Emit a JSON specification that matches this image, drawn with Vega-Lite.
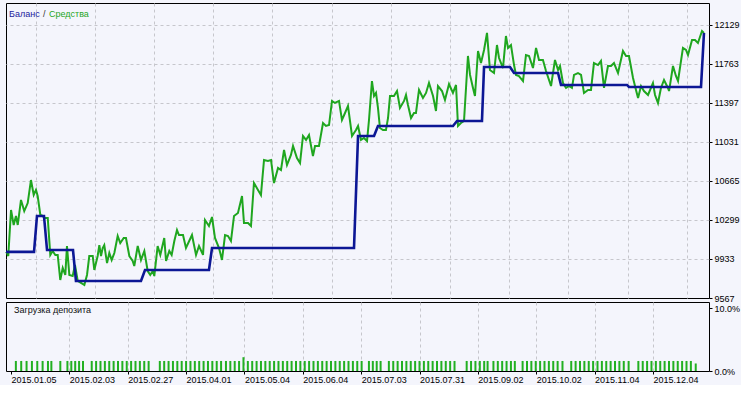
{
"$schema":"https://vega.github.io/schema/vega-lite/v6.json",
"background":"#f4f5fc",
"padding":{"left":0,"top":2,"right":0,"bottom":0},
"spacing":4,
"bounds":"flush",
"config":{
 "view":{"stroke":"#000000","strokeWidth":1,"fill":"#f4f5fc"},
 "font":"Liberation Sans",
 "text":{"font":"Liberation Sans"},
 "axis":{"gridColor":"#c6c6cc","gridDash":[3,3],"gridWidth":1,"domain":false,"labelFont":"Liberation Sans","labelFontSize":9,"labelColor":"#000000","tickColor":"#000000","minExtent":0}
},
"datasets":{
 "equity":[
{"n":0,"v":10000},{"n":1.0,"v":9989},{"n":2.3,"v":9961},{"n":5.1,"v":10393},{"n":7.8,"v":10252},{"n":10.1,"v":10337},{"n":11.9,"v":10252},{"n":15.2,"v":10487},{"n":18.5,"v":10383},{"n":22.0,"v":10458},{"n":25.3,"v":10674},{"n":28.1,"v":10534},{"n":30.4,"v":10581},{"n":32.1,"v":10524},{"n":34.8,"v":10346},{"n":37.2,"v":10337},{"n":38.8,"v":10318},{"n":42.3,"v":10318},{"n":44.9,"v":9971},{"n":47.3,"v":10008},{"n":50.0,"v":9971},{"n":52.4,"v":9971},{"n":55.0,"v":9736},{"n":57.5,"v":9849},{"n":60.1,"v":9783},{"n":61.8,"v":10055},{"n":64.2,"v":9783},{"n":67.6,"v":9773},{"n":69.9,"v":9877},{"n":72.7,"v":9727},{"n":76.0,"v":9708},{"n":79.4,"v":9689},{"n":82.1,"v":9783},{"n":84.4,"v":9961},{"n":87.9,"v":9961},{"n":89.5,"v":9830},{"n":92.9,"v":9961},{"n":94.6,"v":10064},{"n":96.3,"v":9961},{"n":98.0,"v":10036},{"n":99.6,"v":10064},{"n":102.4,"v":9895},{"n":104.7,"v":9989},{"n":107.1,"v":9924},{"n":109.8,"v":9989},{"n":113.2,"v":10149},{"n":115.8,"v":10083},{"n":119.3,"v":10130},{"n":121.6,"v":10130},{"n":125.0,"v":9961},{"n":128.4,"v":9914},{"n":130.0,"v":9867},{"n":133.5,"v":10055},{"n":136.8,"v":9924},{"n":140.2,"v":10008},{"n":143.6,"v":9820},{"n":146.2,"v":9783},{"n":148.7,"v":9820},{"n":150.3,"v":9773},{"n":153.7,"v":10055},{"n":156.4,"v":9971},{"n":160.4,"v":10130},{"n":162.2,"v":9914},{"n":165.5,"v":10008},{"n":167.9,"v":9971},{"n":170.6,"v":10102},{"n":173.3,"v":10205},{"n":175.3,"v":10158},{"n":179.4,"v":10158},{"n":182.4,"v":10036},{"n":188.5,"v":10158},{"n":192.6,"v":9971},{"n":195.6,"v":10055},{"n":199.7,"v":9971},{"n":201.7,"v":10299},{"n":205.7,"v":10243},{"n":208.8,"v":10327},{"n":211.8,"v":10130},{"n":215.9,"v":10036},{"n":218.9,"v":9924},{"n":222.0,"v":10158},{"n":225.0,"v":10149},{"n":228.0,"v":10102},{"n":231.1,"v":10337},{"n":235.1,"v":10365},{"n":239.2,"v":10524},{"n":241.2,"v":10271},{"n":245.3,"v":10271},{"n":248.3,"v":10243},{"n":251.3,"v":10646},{"n":255.4,"v":10581},{"n":258.4,"v":10534},{"n":261.5,"v":10862},{"n":265.5,"v":10853},{"n":268.6,"v":10862},{"n":271.6,"v":10646},{"n":275.7,"v":10787},{"n":278.7,"v":10768},{"n":281.8,"v":10956},{"n":284.8,"v":10815},{"n":288.8,"v":10909},{"n":290.9,"v":10993},{"n":294.9,"v":10881},{"n":298.0,"v":10834},{"n":301.0,"v":11087},{"n":304.1,"v":11050},{"n":307.1,"v":11096},{"n":311.1,"v":10899},{"n":313.2,"v":10993},{"n":317.2,"v":10993},{"n":321.3,"v":11209},{"n":324.3,"v":11181},{"n":327.4,"v":11190},{"n":330.4,"v":11416},{"n":333.4,"v":11397},{"n":337.5,"v":11416},{"n":340.5,"v":11237},{"n":343.6,"v":11303},{"n":346.6,"v":11369},{"n":350.7,"v":11087},{"n":354.7,"v":11143},{"n":356.8,"v":11181},{"n":359.8,"v":11050},{"n":362.8,"v":11068},{"n":365.9,"v":11040},{"n":367.9,"v":11237},{"n":370.9,"v":11603},{"n":373.0,"v":11462},{"n":375.0,"v":11491},{"n":377.0,"v":11350},{"n":379.0,"v":11162},{"n":382.1,"v":11143},{"n":385.1,"v":11143},{"n":387.2,"v":11256},{"n":389.2,"v":11462},{"n":393.2,"v":11462},{"n":396.3,"v":11509},{"n":399.3,"v":11350},{"n":403.4,"v":11416},{"n":405.4,"v":11472},{"n":407.4,"v":11378},{"n":410.5,"v":11256},{"n":413.5,"v":11303},{"n":415.5,"v":11303},{"n":418.6,"v":11519},{"n":422.6,"v":11444},{"n":425.7,"v":11491},{"n":428.7,"v":11584},{"n":432.8,"v":11462},{"n":435.8,"v":11322},{"n":437.8,"v":11556},{"n":441.9,"v":11509},{"n":444.9,"v":11425},{"n":449.0,"v":11575},{"n":453.0,"v":11491},{"n":456.1,"v":11566},{"n":458.1,"v":11181},{"n":461.1,"v":11209},{"n":464.2,"v":11228},{"n":468.2,"v":11838},{"n":470.3,"v":11660},{"n":473.3,"v":11538},{"n":475.3,"v":11462},{"n":478.4,"v":11885},{"n":481.4,"v":11772},{"n":484.5,"v":11894},{"n":487.5,"v":12054},{"n":490.5,"v":11706},{"n":494.6,"v":11678},{"n":497.6,"v":11941},{"n":499.7,"v":11819},{"n":503.7,"v":11725},{"n":506.7,"v":12025},{"n":508.8,"v":11913},{"n":511.8,"v":11941},{"n":514.9,"v":11753},{"n":516.9,"v":11660},{"n":519.9,"v":11650},{"n":524.0,"v":11603},{"n":527.0,"v":11847},{"n":530.1,"v":11838},{"n":534.1,"v":11725},{"n":537.2,"v":11913},{"n":540.2,"v":11800},{"n":544.2,"v":11800},{"n":547.3,"v":11697},{"n":552.4,"v":11556},{"n":556.4,"v":11800},{"n":559.5,"v":11706},{"n":561.5,"v":11744},{"n":564.5,"v":11584},{"n":567.6,"v":11538},{"n":570.6,"v":11556},{"n":573.6,"v":11538},{"n":575.7,"v":11660},{"n":579.7,"v":11678},{"n":582.8,"v":11660},{"n":585.8,"v":11491},{"n":589.9,"v":11519},{"n":592.9,"v":11519},{"n":595.9,"v":11772},{"n":600.0,"v":11753},{"n":603.0,"v":11791},{"n":606.1,"v":11538},{"n":610.1,"v":11744},{"n":613.2,"v":11744},{"n":616.2,"v":11772},{"n":620.3,"v":11678},{"n":625.3,"v":11885},{"n":628.4,"v":11838},{"n":631.4,"v":11838},{"n":635.5,"v":11631},{"n":638.5,"v":11519},{"n":640.6,"v":11444},{"n":643.6,"v":11556},{"n":646.6,"v":11509},{"n":650.7,"v":11472},{"n":655.7,"v":11584},{"n":657.8,"v":11472},{"n":660.8,"v":11397},{"n":663.8,"v":11538},{"n":666.9,"v":11613},{"n":670.9,"v":11538},{"n":672.0,"v":11509},{"n":676.0,"v":11744},{"n":679.0,"v":11650},{"n":681.1,"v":11603},{"n":686.1,"v":11913},{"n":689.2,"v":11894},{"n":691.2,"v":11847},{"n":695.3,"v":11988},{"n":698.3,"v":11988},{"n":701.3,"v":11960},{"n":705.4,"v":12072},{"n":707.4,"v":12054}
 ],
 "balance":[
{"n":0,"v":10000},{"n":28.4,"v":10000},{"n":31.4,"v":10337},{"n":38.5,"v":10337},{"n":41.6,"v":10017},{"n":67.9,"v":10017},{"n":70.9,"v":9727},{"n":136.8,"v":9727},{"n":140.9,"v":9830},{"n":205.7,"v":9830},{"n":208.8,"v":10036},{"n":352.7,"v":10036},{"n":356.8,"v":11087},{"n":373.0,"v":11087},{"n":377.0,"v":11181},{"n":453.0,"v":11181},{"n":457.1,"v":11228},{"n":482.4,"v":11228},{"n":484.5,"v":11735},{"n":510.8,"v":11735},{"n":514.9,"v":11678},{"n":559.5,"v":11678},{"n":562.5,"v":11566},{"n":629.4,"v":11566},{"n":631.4,"v":11547},{"n":704.4,"v":11547},{"n":707.4,"v":12054}
 ],
 "load":[
{"n":5,"p":0.016},{"n":10.5,"p":0.016},{"n":16,"p":0.016},{"n":21.5,"p":0.016},{"n":27,"p":0.016},{"n":32.5,"p":0.016},{"n":38,"p":0.016},{"n":41.5,"p":0.016},{"n":50.7,"p":0.016},
{"n":58,"p":0.016},{"n":62,"p":0.016},{"n":66,"p":0.016},{"n":70,"p":0.016},{"n":74,"p":0.016},
{"n":83,"p":0.016},{"n":87.5,"p":0.016},{"n":92,"p":0.016},{"n":96.5,"p":0.016},{"n":101,"p":0.016},{"n":105.5,"p":0.016},{"n":110,"p":0.016},{"n":114.5,"p":0.016},{"n":119,"p":0.016},{"n":123.5,"p":0.016},{"n":128,"p":0.016},{"n":132.5,"p":0.016},{"n":137,"p":0.016},{"n":141.5,"p":0.016},
{"n":153,"p":0.016},{"n":157.5,"p":0.016},{"n":162,"p":0.016},{"n":166.5,"p":0.016},{"n":171,"p":0.016},{"n":175.5,"p":0.016},{"n":180,"p":0.016},{"n":184.5,"p":0.016},{"n":189,"p":0.016},{"n":193.5,"p":0.016},{"n":198,"p":0.016},{"n":202.5,"p":0.016},{"n":207,"p":0.016},{"n":211.5,"p":0.016},{"n":216,"p":0.016},
{"n":221,"p":0.016},{"n":225.5,"p":0.016},{"n":230,"p":0.016},{"n":234.5,"p":0.016},{"n":239,"p":0.022},{"n":243.5,"p":0.016},{"n":248,"p":0.016},{"n":252.5,"p":0.016},{"n":257,"p":0.016},{"n":261.5,"p":0.016},{"n":266,"p":0.016},{"n":270.5,"p":0.016},{"n":275,"p":0.016},{"n":279.5,"p":0.016},{"n":284,"p":0.016},{"n":288.5,"p":0.016},{"n":293,"p":0.016},{"n":297.5,"p":0.016},{"n":302,"p":0.016},{"n":306.5,"p":0.016},{"n":311,"p":0.016},{"n":315.5,"p":0.016},{"n":320,"p":0.016},{"n":324.5,"p":0.016},{"n":329,"p":0.016},{"n":333.5,"p":0.016},{"n":338,"p":0.016},{"n":342.5,"p":0.016},{"n":347,"p":0.016},{"n":351.5,"p":0.016},{"n":356,"p":0.016},{"n":360.5,"p":0.016},
{"n":368,"p":0.016},{"n":372,"p":0.016},{"n":376,"p":0.016},{"n":380,"p":0.016},
{"n":388.5,"p":0.016},{"n":393,"p":0.016},{"n":397.5,"p":0.016},{"n":402,"p":0.016},{"n":406.5,"p":0.016},{"n":411,"p":0.016},{"n":415.5,"p":0.016},{"n":420,"p":0.016},{"n":424.5,"p":0.016},{"n":429,"p":0.016},{"n":433.5,"p":0.016},{"n":438,"p":0.016},{"n":442.5,"p":0.016},{"n":447,"p":0.016},{"n":451.5,"p":0.016},{"n":456,"p":0.016},
{"n":468.5,"p":0.016},{"n":473,"p":0.016},{"n":477.5,"p":0.016},{"n":482,"p":0.016},{"n":486.5,"p":0.016},{"n":490,"p":0.016},
{"n":496,"p":0.016},{"n":500.5,"p":0.016},{"n":505,"p":0.016},{"n":509.5,"p":0.016},{"n":514,"p":0.016},{"n":518,"p":0.016},
{"n":526,"p":0.016},{"n":530.5,"p":0.016},{"n":535,"p":0.016},{"n":539.5,"p":0.016},{"n":544,"p":0.016},{"n":548.5,"p":0.016},{"n":553,"p":0.016},{"n":557.5,"p":0.016},{"n":562,"p":0.016},{"n":567,"p":0.016},
{"n":576,"p":0.016},{"n":580.5,"p":0.016},{"n":585,"p":0.016},{"n":589.5,"p":0.016},{"n":594,"p":0.016},{"n":598.5,"p":0.016},{"n":603,"p":0.016},{"n":607.5,"p":0.016},{"n":612,"p":0.016},{"n":616.5,"p":0.016},{"n":621,"p":0.016},{"n":625.5,"p":0.016},{"n":630,"p":0.016},{"n":635,"p":0.016},
{"n":645,"p":0.016},{"n":649.5,"p":0.016},{"n":654,"p":0.016},{"n":658.5,"p":0.016},{"n":663,"p":0.016},{"n":667.5,"p":0.016},{"n":672,"p":0.016},{"n":676.5,"p":0.016},{"n":681,"p":0.016},{"n":685.5,"p":0.016},{"n":690,"p":0.016},{"n":694.5,"p":0.016},{"n":699,"p":0.016},{"n":704,"p":0.012}
 ],
 "legend":[{"t":"Баланс","k":"b"},{"t":"/","k":"s"},{"t":"Средства","k":"e"}]
},
"vconcat":[
 {
  "width":703,"height":295,
  "layer":[
   {"data":{"name":"equity"},"mark":{"type":"line","color":"#1fa61f","strokeWidth":2},
    "encoding":{
     "x":{"field":"n","type":"quantitative","scale":{"domain":[0,712.5],"nice":false,"zero":false},"axis":{"title":null,"values":[30,60,90,120,150,180,210,240,270,300,330,360,390,420,450,480,510,540,570,600,630,660,690],"labels":false,"ticks":false,"grid":true}},
     "y":{"field":"v","type":"quantitative","scale":{"domain":[9567,12335],"nice":false,"zero":false},"axis":{"title":null,"orient":"right","values":[9567,9933,10299,10665,11031,11397,11763,12129],"format":"d","tickSize":3,"labelPadding":2,"grid":true,"gridOpacity":{"condition":{"test":"datum.value < 9600","value":0},"value":1}}}
    }},
   {"data":{"name":"balance"},"mark":{"type":"line","color":"#0c1795","strokeWidth":2.6},
    "encoding":{"x":{"field":"n","type":"quantitative"},"y":{"field":"v","type":"quantitative"}}},
   {"data":{"name":"legend"},"transform":[{"filter":"datum.k == 'b'"}],"mark":{"type":"text","color":"#1c1c9c","align":"left","baseline":"middle","dx":3,"dy":11,"fontSize":9},
    "encoding":{"text":{"field":"t"},"x":{"datum":0,"type":"quantitative"},"y":{"datum":12335,"type":"quantitative"}}},
   {"data":{"name":"legend"},"transform":[{"filter":"datum.k == 's'"}],"mark":{"type":"text","color":"#333333","align":"left","baseline":"middle","dx":37,"dy":11,"fontSize":9},
    "encoding":{"text":{"field":"t"},"x":{"datum":0,"type":"quantitative"},"y":{"datum":12335,"type":"quantitative"}}},
   {"data":{"name":"legend"},"transform":[{"filter":"datum.k == 'e'"}],"mark":{"type":"text","color":"#1fa61f","align":"left","baseline":"middle","dx":43,"dy":11,"fontSize":9},
    "encoding":{"text":{"field":"t"},"x":{"datum":0,"type":"quantitative"},"y":{"datum":12335,"type":"quantitative"}}}
  ]
 },
 {
  "width":703,"height":69,
  "layer":[
   {"data":{"name":"load"},"mark":{"type":"bar","color":"#22b022","width":2,"orient":"vertical"},
    "encoding":{
     "x":{"field":"n","type":"quantitative","scale":{"domain":[0,712.5],"nice":false,"zero":false},"axis":{"title":null,"values":[0,30,60,90,120,150,180,210,240,270,300,330,360,390,420,450,480,510,540,570,600,630,660,690],"labelExpr":"['2015.01.05','','2015.02.03','','2015.02.27','','2015.04.01','','2015.05.04','','2015.06.04','','2015.07.03','','2015.07.31','','2015.09.02','','2015.10.02','','2015.11.04','','2015.12.04',''][round(datum.value/30)]","labelAlign":"left","labelPadding":1,"tickSize":3,"labelOverlap":false,"labelFlush":false,"labelBound":false,"grid":true,"gridOpacity":{"condition":{"test":"datum.value == 0","value":0},"value":1}}},
     "y":{"field":"p","type":"quantitative","scale":{"domain":[0,0.11],"nice":false,"zero":true},"axis":{"title":null,"orient":"right","values":[0,0.1],"format":".1%","tickSize":3,"labelPadding":2,"grid":false}}
    }},
   {"data":{"values":[{"t":"Загрузка депозита"}]},"mark":{"type":"text","color":"#111111","align":"left","baseline":"middle","dx":3,"dy":8,"fontSize":9},
    "encoding":{"text":{"field":"t"},"x":{"datum":0,"type":"quantitative"},"y":{"datum":0.11,"type":"quantitative"}}}
  ]
 }
]
}
